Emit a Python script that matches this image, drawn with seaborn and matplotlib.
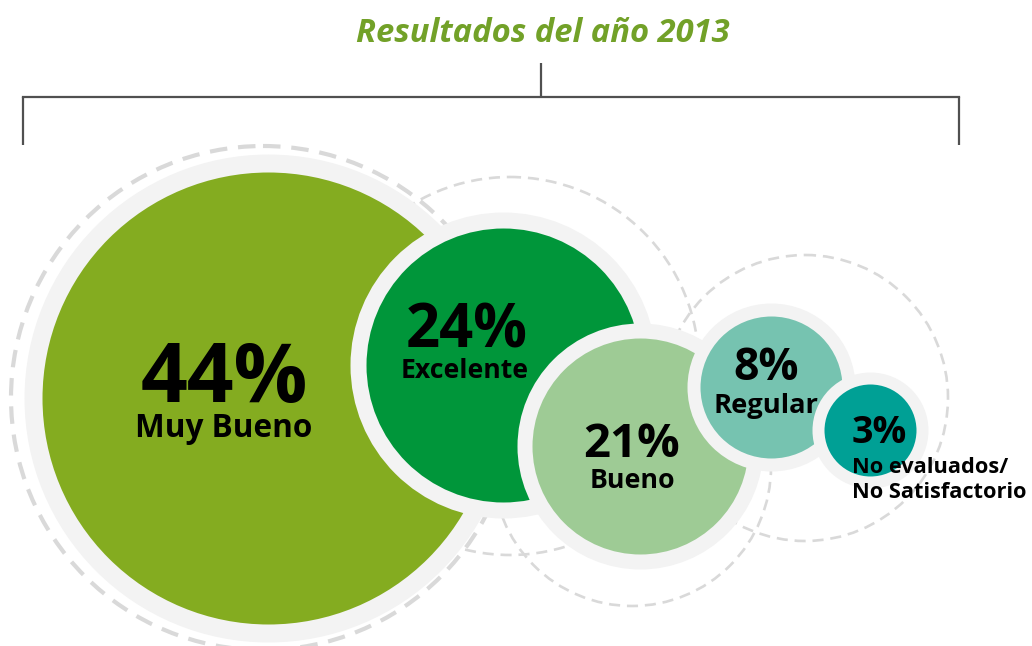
import matplotlib
matplotlib.use("Agg")
import matplotlib.pyplot as plt
from matplotlib.patches import Circle
import seaborn as sns
import pandas as pd

# Results by rating category
categories = ["Muy Bueno", "Excelente", "Bueno", "Regular", "No evaluados/\nNo Satisfactorio"]
values = [44, 24, 21, 8, 3]
title = "Resultados del año 2013"

# Bubble layout in pixel space (x to the right, y downward)
center_x = [268, 503, 640, 771, 870]
center_y = [398, 365, 446, 387, 430]
radius = [226, 137, 108, 71, 46]
ring = [18, 16, 15, 13, 12]
fill_colors = ["#84ac20", "#00963a", "#9ecb95", "#76c3b0", "#00a095"]
ring_color = "#f3f3f3"

# Decorative dashed orbits behind the bubbles
orbit_x = [263, 510, 632, 805]
orbit_y = [398, 366, 467, 398]
orbit_r = [252, 189, 139, 143]
orbit_lw = [3.0, 1.9, 1.9, 1.9]
orbit_color = "#d9d9d9"

# Label anchors (baselines) and sizes
pct_x = [224, 467, 632, 766, 852]
pct_y = [402, 347, 457, 380, 443]
pct_size = [59, 43, 34, 32, 27]
cat_x = [224, 465, 632, 766, 852]
cat_y = [437, 378, 488, 413, 473]
cat_size = [22.7, 19.2, 19.3, 19.7, 15.7]
cat_line_gap = 25
align = ["center", "center", "center", "center", "left"]

W, H, DPI = 1032, 646, 100
PX2PT = 72 / DPI

sns.set_theme(style="white")
plt.rcParams["font.family"] = ["Open Sans", "DejaVu Sans"]

fig = plt.figure(figsize=(W / DPI, H / DPI), dpi=DPI)
ax = fig.add_axes([0, 0, 1, 1])
ax.set_xlim(0, W)
ax.set_ylim(H, 0)
ax.set_axis_off()

# Dashed orbits
for ox, oy, r, lw in zip(orbit_x, orbit_y, orbit_r, orbit_lw):
    ax.add_patch(Circle((ox, oy), r, fill=False, edgecolor=orbit_color, lw=lw,
                        linestyle=(0, (4.2, 2.6)), zorder=1))

# Bubbles: filled marker with a light ring drawn as its edge
df = pd.DataFrame({"category": categories, "value": values,
                   "x": center_x, "y": center_y, "r": radius, "ring": ring,
                   "color": fill_colors})
for i, row in df.iterrows():
    diam_pt = (2 * row["r"] + row["ring"]) * PX2PT
    sns.scatterplot(data=df.iloc[[i]], x="x", y="y", ax=ax, s=diam_pt ** 2,
                    color=row["color"], edgecolor=ring_color,
                    linewidth=row["ring"] * PX2PT, legend=False, zorder=2 + i)

# Labels
for i, (v, cat) in enumerate(zip(values, categories)):
    ax.text(pct_x[i], pct_y[i], f"{v}%", ha=align[i], va="baseline",
            fontsize=pct_size[i], fontweight="bold", color="black", zorder=20)
    for j, line in enumerate(cat.split("\n")):
        ax.text(cat_x[i], cat_y[i] + j * cat_line_gap, line, ha=align[i],
                va="baseline", fontsize=cat_size[i], fontweight="bold",
                color="black", zorder=20)

# Title and bracket
ax.text(543, 42, title, ha="center", va="baseline", fontsize=23.6,
        fontweight="bold", fontstyle="italic", color="#72a128")
bracket = "#505050"
ax.plot([541, 541], [63, 97], color=bracket, lw=1.6, solid_capstyle="butt")
ax.plot([23, 959], [97, 97], color=bracket, lw=1.6, solid_capstyle="projecting")
ax.plot([23, 23], [97, 145], color=bracket, lw=1.6, solid_capstyle="butt")
ax.plot([959, 959], [97, 145], color=bracket, lw=1.6, solid_capstyle="butt")

fig.savefig("out.png", dpi=DPI)
